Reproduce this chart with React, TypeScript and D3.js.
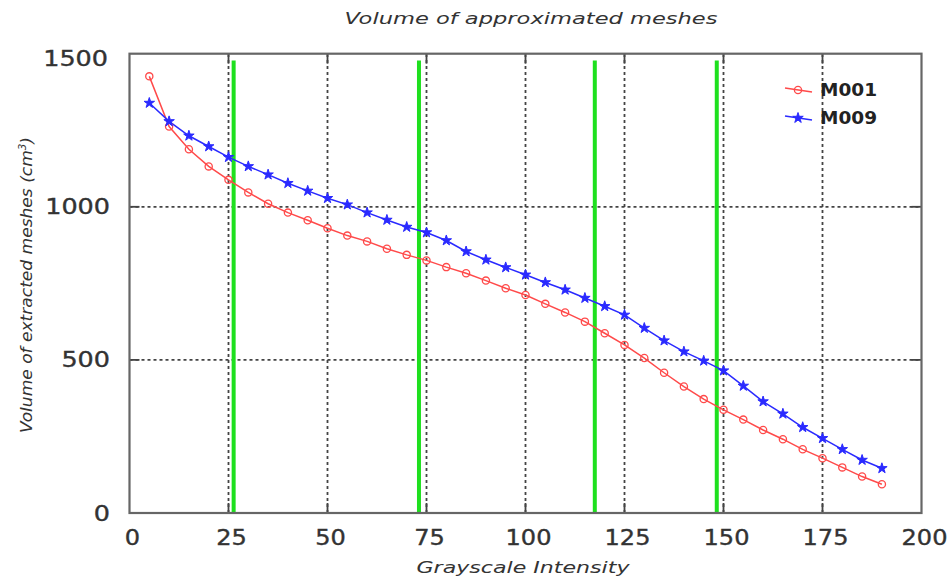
import React from "react";
import * as d3 from "d3";

const intensity = [5,10,15,20,25,30,35,40,45,50,55,60,65,70,75,80,85,90,95,100,105,110,115,120,125,130,135,140,145,150,155,160,165,170,175,180,185,190];
const m001 = [1426,1262,1188,1132,1088,1047,1010,981,956,930,906,887,863,843,825,803,783,759,734,712,683,655,625,587,549,506,458,413,372,337,305,271,241,208,179,149,119,94];
const m009 = [1339,1279,1232,1197,1162,1132,1105,1077,1052,1028,1007,981,957,934,916,890,854,827,802,778,753,729,702,675,647,604,563,527,497,465,415,364,324,280,244,208,173,146];
const xTicks = [0,25,50,75,100,125,150,175,200];
const yTicks = [0,500,1000,1500];
const greenLines = [26.3,73.1,117.5,148.3];
const seriesNames = ["M001","M009"];

const W = 949, H = 581;
const FONT = "'DejaVu Sans', Verdana, sans-serif";

export default function App() {
  const x = d3.scaleLinear().domain([0,200]).range([129.5,921.5]);
  const y = d3.scaleLinear().domain([0,1500]).range([513,53.7]);
  const red = "#ff4a4a", blue = "#2a2aff", grid = "#444";
  const line = d3.line<number>().x((_, i) => x(intensity[i])).y(d => y(d));
  const star = d3.symbol().type(d3.symbolStar).size(34)() as string;
  const [x0,x1] = x.range(); const [y0,y1] = y.range();

  return (
    <svg width={W} height={H} style={{position:"absolute",left:0,top:0,background:"#fff"}} fontFamily={FONT}>
      <rect width={W} height={H} fill="#fff" />
      {xTicks.filter(t => t>0 && t<200).map(t => (
        <g key={"gx"+t}>
          <line x1={x(t)} x2={x(t)} y1={y0} y2={y1} stroke={grid} strokeWidth={1.8} strokeDasharray="3,3" />
          <line x1={x(t)} x2={x(t)} y1={y0} y2={y0-10} stroke={grid} strokeWidth={1.8} />
          <line x1={x(t)} x2={x(t)} y1={y1} y2={y1+10} stroke={grid} strokeWidth={1.8} />
        </g>
      ))}
      {yTicks.filter(t => t>0 && t<1500).map(t => (
        <g key={"gy"+t}>
          <line x1={x0} x2={x1} y1={y(t)} y2={y(t)} stroke={grid} strokeWidth={1.8} strokeDasharray="3,3" />
          <line x1={x0} x2={x0+10} y1={y(t)} y2={y(t)} stroke={grid} strokeWidth={1.8} />
          <line x1={x1} x2={x1-10} y1={y(t)} y2={y(t)} stroke={grid} strokeWidth={1.8} />
        </g>
      ))}
      {greenLines.map(g => (
        <line key={"g"+g} x1={x(g)} x2={x(g)} y1={y(1478)} y2={y(0)} stroke="#1ee01e" strokeWidth={4} />
      ))}
      <rect x={x0} y={y1} width={x1-x0} height={y0-y1} fill="none" stroke="#666" strokeWidth={2.2} />
      <path d={line(m001) as string} fill="none" stroke={red} strokeWidth={1.5} />
      <path d={line(m009) as string} fill="none" stroke={blue} strokeWidth={1.5} />
      {m001.map((v,i) => (
        <circle key={"r"+i} cx={x(intensity[i])} cy={y(v)} r={3.6} fill="none" stroke={red} strokeWidth={1.3} />
      ))}
      {m009.map((v,i) => (
        <path key={"b"+i} d={star} transform={`translate(${x(intensity[i])},${y(v)})`} fill={blue} stroke={blue} strokeWidth={1} />
      ))}
      {xTicks.map(t => (
        <text key={"xt"+t} x={x(t)+3} y={545} textAnchor="middle" fontSize={20.5} fill="#333" stroke="#333" strokeWidth={0.35}
          textLength={String(t).length*15.3} lengthAdjust="spacingAndGlyphs">{t}</text>
      ))}
      {yTicks.map(t => (
        <text key={"yt"+t} x={t===1500?108:110} y={(t===1500?y(t)+5:y(t))+7.5} textAnchor="end" fontSize={20.5} fill="#333" stroke="#333" strokeWidth={0.35}
          textLength={String(t).length*16.2} lengthAdjust="spacingAndGlyphs">{t}</text>
      ))}
      <text x={531} y={24} textAnchor="middle" fontSize={15.5} fontStyle="italic" fill="#333"
        textLength={373} lengthAdjust="spacingAndGlyphs">Volume of approximated meshes</text>
      <text x={523} y={573} textAnchor="middle" fontSize={16.5} fontStyle="italic" fill="#333"
        textLength={213} lengthAdjust="spacingAndGlyphs">Grayscale Intensity</text>
      <text transform="translate(32,285) rotate(-90)" textAnchor="middle" fontSize={16.5} fontStyle="italic" fill="#333"
        textLength={296} lengthAdjust="spacingAndGlyphs">Volume of extracted meshes (cm<tspan dy={-6} fontSize={10}>3</tspan><tspan dy={6}>)</tspan></text>
      {seriesNames.map((n,i) => {
        const ly = 90 + i*28;
        const c = i===0 ? red : blue;
        return (
          <g key={n}>
            <line x1={785} x2={812} y1={ly-2} y2={ly+2} stroke={c} strokeWidth={1.5} />
            {i===0
              ? <circle cx={798} cy={ly} r={3.6} fill="none" stroke={c} strokeWidth={1.3} />
              : <path d={star} transform={`translate(798,${ly})`} fill={c} stroke={c} strokeWidth={1} />}
            <text x={820} y={ly+6} fontSize={17.5} fontWeight="bold" fill="#222"
              textLength={57} lengthAdjust="spacingAndGlyphs">{n}</text>
          </g>
        );
      })}
    </svg>
  );
}
